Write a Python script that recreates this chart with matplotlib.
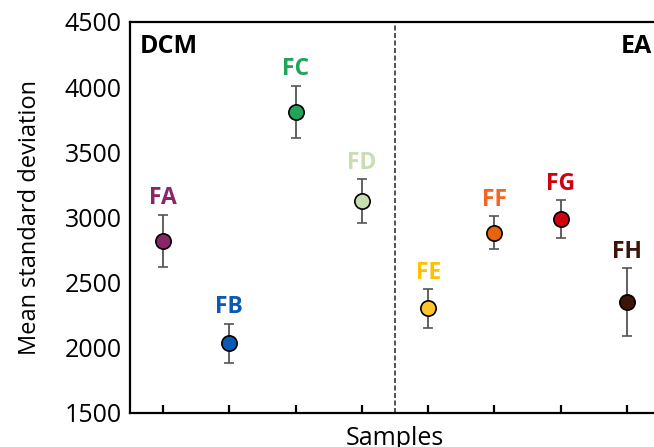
import matplotlib
matplotlib.use("Agg")
import matplotlib.pyplot as plt

plt.rcParams.update({
    "font.family": ["Open Sans", "DejaVu Sans"],
    "font.size": 15,
    "axes.linewidth": 1.6,
})

# Data
samples = ["FA", "FB", "FC", "FD", "FE", "FF", "FG", "FH"]
means = [2822, 2034, 3812, 3124, 2303, 2883, 2990, 2351]
errors = [200, 152, 200, 170, 150, 127, 145, 258]
marker_colors = ["#8B2469", "#0A5AB5", "#22A35A", "#C8DDB0",
                 "#FFC52A", "#E8640C", "#D4000F", "#3D1508"]
label_colors = ["#8B2469", "#0A5AB5", "#22A35A", "#C8DDB0",
                "#FFC000", "#F26522", "#D4000F", "#3D1508"]
groups = ["DCM", "EA"]

fig = plt.figure(figsize=(6.54, 4.47), dpi=100)
ax = fig.add_axes([0.1988, 0.0761, 0.8104, 0.8747])

xs = list(range(1, len(samples) + 1))
for x, m, e, mc, lc, name in zip(xs, means, errors, marker_colors,
                                 label_colors, samples):
    ax.errorbar(x, m, yerr=e, fmt="o", color=mc, markersize=11,
                markeredgecolor="black", markeredgewidth=1.2,
                ecolor="#555555", elinewidth=1.3, capsize=3.6,
                capthick=1.3, zorder=3)
    ax.annotate(name, (x, m + e), xytext=(0, 3), textcoords="offset points",
                ha="center", va="bottom", color=lc, fontsize=16.5,
                fontweight="bold")

# Separator between the two solvent groups
ax.axvline(4.5, color="#333333", linestyle=(0, (3, 1.5)), linewidth=1.2)

ax.text(0.018, 0.97, groups[0], transform=ax.transAxes, ha="left", va="top",
        fontsize=18, fontweight="bold")
ax.text(0.985, 0.97, groups[1], transform=ax.transAxes, ha="right",
        va="top", fontsize=18, fontweight="bold")

ax.set_xlim(0.5, 8.5)
ax.set_ylim(1500, 4500)
ax.set_yticks(range(1500, 4501, 500))
ax.set_xticks(xs)
ax.set_xticklabels([])
ax.tick_params(axis="x", direction="in", length=6, width=1.6)
ax.tick_params(axis="y", length=0, pad=6, labelsize=18)
ax.set_xlabel("Samples", fontsize=18, labelpad=6)
ax.set_ylabel("Mean standard deviation", fontsize=17, labelpad=16)

fig.savefig("out.png", dpi=100)
